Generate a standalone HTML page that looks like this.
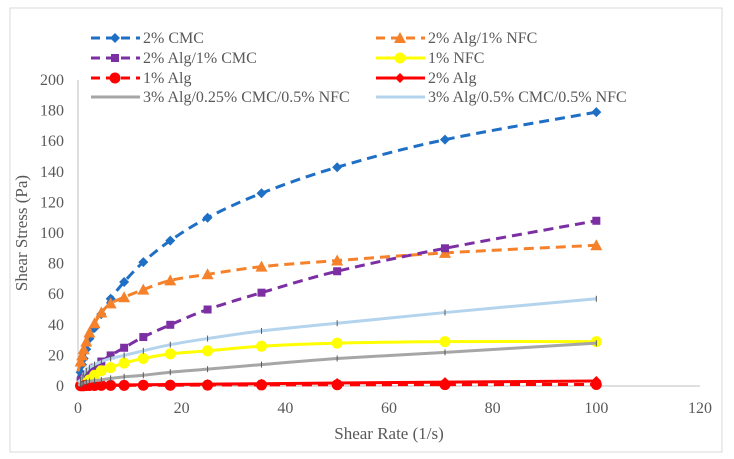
<!DOCTYPE html>
<html><head><meta charset="utf-8"><style>
body{margin:0;background:#fff}
svg{display:block;font-family:"Liberation Serif",serif}
</style></head><body>
<svg id="c" width="734" height="459">
<rect x="10" y="8" width="712" height="444" fill="#fff" stroke="#d9d9d9"/>
</svg>
<script>
const xs=[0.5,0.8,1.1,1.6,2.2,3.2,4.5,6.3,8.9,12.6,17.8,25,35.4,50,70.8,100];
const cmc=[9,14,18,24,31,38,47,57,68,81,95,110,126,143,161,179];
const algNfc=[16,20,24,29,35,41,48,54,58,63,69,73,78,82,87,92];
const algCmc=[3,4,5,7,9,12,16,20,25,32,40,50,61,75,90,108];
const nfc=[0.5,0.8,1,2,4,7,10,12,15,18,21,23,26,28,29,29];
const alg1=[0.2,0.2,0.2,0.3,0.3,0.3,0.4,0.4,0.4,0.5,0.5,0.6,0.7,0.8,0.9,1];
const alg2=[0.2,0.2,0.3,0.3,0.4,0.4,0.5,0.6,0.7,0.8,1,1.2,1.5,2,2.5,3.3];
const mixA=[1,1.5,2,2.5,3,3.5,4,5,6,7,9,11,14,18,22,28];
const mixB=[4,6,8,10,12,14,16,18,20,23,27,31,36,41,48,57];
const xTicks=[0,20,40,60,80,100,120];
const yTicks=[0,20,40,60,80,100,120,140,160,180,200];
const NS="http://www.w3.org/2000/svg";
const svg=document.getElementById('c');
const X=v=>78+v*622/120, Y=v=>386-v*306/200;
function el(t,a,p){const e=document.createElementNS(NS,t);for(const k in a)e.setAttribute(k,a[k]);(p||svg).appendChild(e);return e;}
let e;
e=el('line',{x1:78,y1:80,x2:78,y2:386,stroke:'#bfbfbf'});


e=el('line',{x1:78,y1:386,x2:700,y2:386,stroke:'#bfbfbf'});


yTicks.forEach(v=>{const t=el('text',{x:64,y:Y(v)+5,'text-anchor':'end','font-size':16,fill:'#595959'});t.textContent=v;

});
xTicks.forEach(v=>{const t=el('text',{x:X(v),y:413,'text-anchor':'middle','font-size':16,fill:'#595959'});t.textContent=v;

});
e=el('text',{x:389,y:439,'text-anchor':'middle','font-size':17,fill:'#595959'});e.textContent='Shear Rate (1/s)';


e=el('text',{x:27,y:233,'text-anchor':'middle','font-size':17,fill:'#595959',transform:'rotate(-90 27 233)'});e.textContent='Shear Stress (Pa)';


function path(vals){const p=xs.map((x,i)=>[X(x),Y(vals[i])]);p.unshift([X(0),Y(vals[0]*0.6)]);
let d='M'+p[0][0]+','+p[0][1];for(let i=0;i<p.length-1;i++){const p0=p[Math.max(0,i-1)],p1=p[i],p2=p[i+1],p3=p[Math.min(p.length-1,i+2)];
d+=` C${p1[0]+(p2[0]-p0[0])/6},${p1[1]+(p2[1]-p0[1])/6} ${p2[0]-(p3[0]-p1[0])/6},${p2[1]-(p3[1]-p1[1])/6} ${p2[0]},${p2[1]}`;}return d;}
function marker(m,x,y,c,g){
if(m==='d')return el('polygon',{points:`${x},${y-5} ${x+5},${y} ${x},${y+5} ${x-5},${y}`,fill:c},g);
if(m==='t')return el('polygon',{points:`${x},${y-6} ${x+6},${y+5} ${x-6},${y+5}`,fill:c},g);
if(m==='s')return el('rect',{x:x-4,y:y-4,width:8,height:8,fill:c},g);
if(m==='c')return el('circle',{cx:x,cy:y,r:5.5,fill:c},g);
if(m==='-')return el('line',{x1:x,y1:y-3,x2:x,y2:y+3,stroke:'#595959'},g);
return null;}
const series=[
['2% CMC',cmc,'#1f6fc5','d',true,'series-cmc'],
['2% Alg/1% NFC',algNfc,'#f5812a','t',true,'series-alg-nfc'],
['2% Alg/1% CMC',algCmc,'#7b2fa3','s',true,'series-alg-cmc'],
['1% NFC',nfc,'#ffff00','c',false,'series-nfc'],
['1% Alg',alg1,'#ff0000','c',true,'series-alg1'],
['2% Alg',alg2,'#ff0000','d',false,'series-alg2'],
['3% Alg/0.25% CMC/0.5% NFC',mixA,'#a6a6a6','-',false,'series-mix-a'],
['3% Alg/0.5% CMC/0.5% NFC',mixB,'#b4d4ee','-',false,'series-mix-b']];
series.forEach((s,si)=>{
const g=el('g',{});


el('path',{d:path(s[1]),fill:'none',stroke:s[2],'stroke-width':3,'stroke-dasharray':s[4]?'10,6':'none'},g);
xs.forEach((x,i)=>{const m=marker(s[3],X(x),Y(s[1][i]),s[2],g);if(m){
}});
const col=si%2,row=Math.floor(si/2);const lx=col?376:91,ly=[38,58,78,97][row];
const lg=el('g',{});


el('line',{x1:lx,y1:ly,x2:lx+49,y2:ly,stroke:s[2],'stroke-width':3,'stroke-dasharray':s[4]?'9,6':'none'},lg);
if(s[3]!=='-')marker(s[3],lx+24,ly,s[2],lg);
const t=el('text',{x:lx+52,y:ly+5,'font-size':16,fill:'#595959'},lg);t.textContent=s[0];
});
</script>
</body></html>
